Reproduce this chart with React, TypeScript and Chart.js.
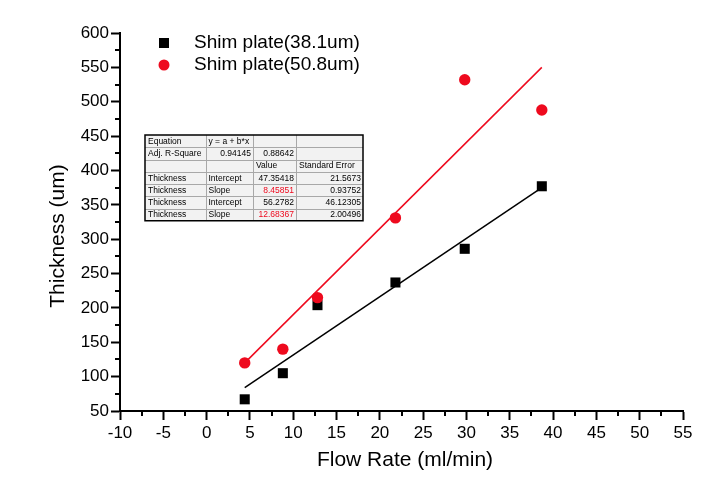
import React, { useEffect, useRef } from "react";
import { Chart, registerables } from "chart.js";

Chart.register(...registerables);

// ---- data ----
const flowRate = [4.4, 8.8, 12.8, 21.8, 29.8, 38.7];
const thickness381 = [67, 105, 204, 237, 286, 377];
const thickness508 = [120, 140, 215, 331, 532, 488];
const fitX = [4.4, 38.7];
const fit381 = [84, 375];
const fit508 = [120, 550];
const seriesLabels = ["Shim plate(38.1um)", "Shim plate(50.8um)"];
const xTickValues = [-10, -5, 0, 5, 10, 15, 20, 25, 30, 35, 40, 45, 50, 55];
const yTickValues = [50, 100, 150, 200, 250, 300, 350, 400, 450, 500, 550, 600];
const xTitle = "Flow Rate (ml/min)";
const yTitle = "Thickness (um)";
const tableCol0 = ["Equation", "Adj. R-Square", "", "Thickness", "Thickness", "Thickness", "Thickness"];
const tableCol1 = ["y = a + b*x", "0.94145", "", "Intercept", "Slope", "Intercept", "Slope"];
const tableCol2 = ["", "0.88642", "Value", "47.35418", "8.45851", "56.2782", "12.68367"];
const tableCol3 = ["", "", "Standard Error", "21.5673", "0.93752", "46.12305", "2.00496"];
const tableRedCells = [[4, 2], [6, 2]];

const RED = "rgb(238,10,30)";
const FONT = "'Liberation Sans', Arial, sans-serif";

const toPts = (xs: number[], ys: number[]) => xs.map((x, i) => ({ x, y: ys[i] }));

const decorPlugin = {
  id: "decor",
  afterDraw(chart: any) {
    const ctx = chart.ctx as CanvasRenderingContext2D;
    const xs = chart.scales.x;
    const ys = chart.scales.y;
    const area = chart.chartArea;
    ctx.save();
    // minor ticks
    ctx.strokeStyle = "#000";
    ctx.lineWidth = 2;
    ctx.beginPath();
    for (let i = 0; i < xTickValues.length - 1; i++) {
      const v = (xTickValues[i] + xTickValues[i + 1]) / 2;
      const px = Math.round(xs.getPixelForValue(v));
      ctx.moveTo(px, area.bottom);
      ctx.lineTo(px, area.bottom + 5);
    }
    for (let i = 0; i < yTickValues.length - 1; i++) {
      const v = (yTickValues[i] + yTickValues[i + 1]) / 2;
      const py = Math.round(ys.getPixelForValue(v));
      ctx.moveTo(area.left, py);
      ctx.lineTo(area.left - 5, py);
    }
    ctx.stroke();

    // axis titles
    ctx.fillStyle = "#000";
    ctx.font = `21px ${FONT}`;
    ctx.textAlign = "center";
    ctx.textBaseline = "middle";
    ctx.fillText(xTitle, 405, 460);
    ctx.save();
    ctx.translate(58, 236);
    ctx.rotate(-Math.PI / 2);
    ctx.fillText(yTitle, 0, 0);
    ctx.restore();

    // legend
    ctx.font = `19px ${FONT}`;
    ctx.textAlign = "left";
    ctx.fillStyle = "#000";
    ctx.fillRect(159, 38, 10, 10);
    ctx.fillText(seriesLabels[0], 194, 43);
    ctx.fillStyle = RED;
    ctx.beginPath();
    ctx.arc(164, 65, 5.5, 0, Math.PI * 2);
    ctx.fill();
    ctx.fillStyle = "#000";
    ctx.fillText(seriesLabels[1], 194, 65);

    // table
    const colX = [145, 205.5, 253, 296, 363];
    const top = 135;
    const rowH = 12.25;
    const nRows = tableCol0.length;
    const bottom = top + rowH * nRows;
    ctx.fillStyle = "#f2f2f2";
    ctx.fillRect(colX[0], top, colX[4] - colX[0], bottom - top);
    ctx.strokeStyle = "#a8a8a8";
    ctx.lineWidth = 1;
    ctx.beginPath();
    for (let r = 1; r < nRows; r++) {
      const y = Math.round(top + r * rowH) + 0.5;
      ctx.moveTo(colX[0], y);
      ctx.lineTo(colX[4], y);
    }
    for (let c = 1; c < 4; c++) {
      const x = Math.round(colX[c]) + 0.5;
      ctx.moveTo(x, top);
      ctx.lineTo(x, bottom);
    }
    ctx.stroke();
    ctx.strokeStyle = "#000";
    ctx.lineWidth = 1.5;
    ctx.strokeRect(colX[0], top, colX[4] - colX[0], bottom - top);

    ctx.font = `8.5px ${FONT}`;
    ctx.textBaseline = "middle";
    const cols = [tableCol0, tableCol1, tableCol2, tableCol3];
    for (let r = 0; r < nRows; r++) {
      const cy = top + r * rowH + rowH / 2 + 0.5;
      for (let c = 0; c < 4; c++) {
        const t = cols[c][r];
        if (!t) continue;
        const numeric = /^[0-9.\-]+$/.test(t);
        const red = tableRedCells.some(([rr, cc]) => rr === r && cc === c);
        ctx.fillStyle = red ? RED : "#000";
        if (numeric) {
          ctx.textAlign = "right";
          ctx.fillText(t, colX[c + 1] - 2, cy);
        } else {
          ctx.textAlign = "left";
          ctx.fillText(t, colX[c] + 3, cy);
        }
      }
    }
    ctx.restore();
  },
};

export default function App() {
  const ref = useRef<HTMLCanvasElement | null>(null);
  useEffect(() => {
    document.body.style.margin = "0";
    const canvas = ref.current!;
    const chart = new Chart(canvas, {
      type: "scatter",
      data: {
        datasets: [
          {
            label: seriesLabels[0],
            data: toPts(flowRate, thickness381),
            pointStyle: "rect",
            pointRadius: 7.1,
            backgroundColor: "#000",
            borderColor: "#000",
            borderWidth: 0,
            order: 1,
          },
          {
            label: seriesLabels[1],
            data: toPts(flowRate, thickness508),
            pointStyle: "circle",
            pointRadius: 5.7,
            backgroundColor: RED,
            borderColor: RED,
            borderWidth: 0,
            order: 0,
          },
          {
            type: "line",
            label: "fit1",
            data: toPts(fitX, fit381),
            showLine: true,
            borderColor: "#000",
            borderWidth: 1.5,
            pointRadius: 0,
            fill: false,
            order: 2,
          } as any,
          {
            type: "line",
            label: "fit2",
            data: toPts(fitX, fit508),
            showLine: true,
            borderColor: RED,
            borderWidth: 1.5,
            pointRadius: 0,
            fill: false,
            order: 2,
          } as any,
        ],
      },
      options: {
        animation: false,
        responsive: false,
        devicePixelRatio: 1,
        layout: { padding: { left: 0, top: 33, right: 39, bottom: 0 } },
        plugins: { legend: { display: false }, tooltip: { enabled: false } },
        scales: {
          x: {
            type: "linear",
            min: -10,
            max: 55,
            afterFit: (s: any) => {
              s.height = 66;
            },
            afterBuildTicks: (s: any) => {
              s.ticks = xTickValues.map((v) => ({ value: v }));
            },
            ticks: {
              color: "#000",
              font: { family: FONT, size: 17 },
              padding: 3,
              maxRotation: 0,
              autoSkip: false,
            },
            grid: {
              drawOnChartArea: false,
              drawTicks: true,
              tickLength: 9,
              tickWidth: 2,
              tickColor: "#000",
            },
            border: { display: true, color: "#000", width: 2 },
          },
          y: {
            type: "linear",
            min: 50,
            max: 600,
            afterFit: (s: any) => {
              s.width = 120;
            },
            afterBuildTicks: (s: any) => {
              s.ticks = yTickValues.map((v) => ({ value: v }));
            },
            ticks: {
              color: "#000",
              font: { family: FONT, size: 17 },
              padding: 2,
              autoSkip: false,
            },
            grid: {
              drawOnChartArea: false,
              drawTicks: true,
              tickLength: 9,
              tickWidth: 2,
              tickColor: "#000",
            },
            border: { display: true, color: "#000", width: 2 },
          },
        },
      },
      plugins: [decorPlugin],
    } as any);
    return () => chart.destroy();
  }, []);
  return (
    <div style={{ width: 722, height: 477, background: "#fff" }}>
      <canvas ref={ref} width={722} height={477} style={{ display: "block" }} />
    </div>
  );
}
